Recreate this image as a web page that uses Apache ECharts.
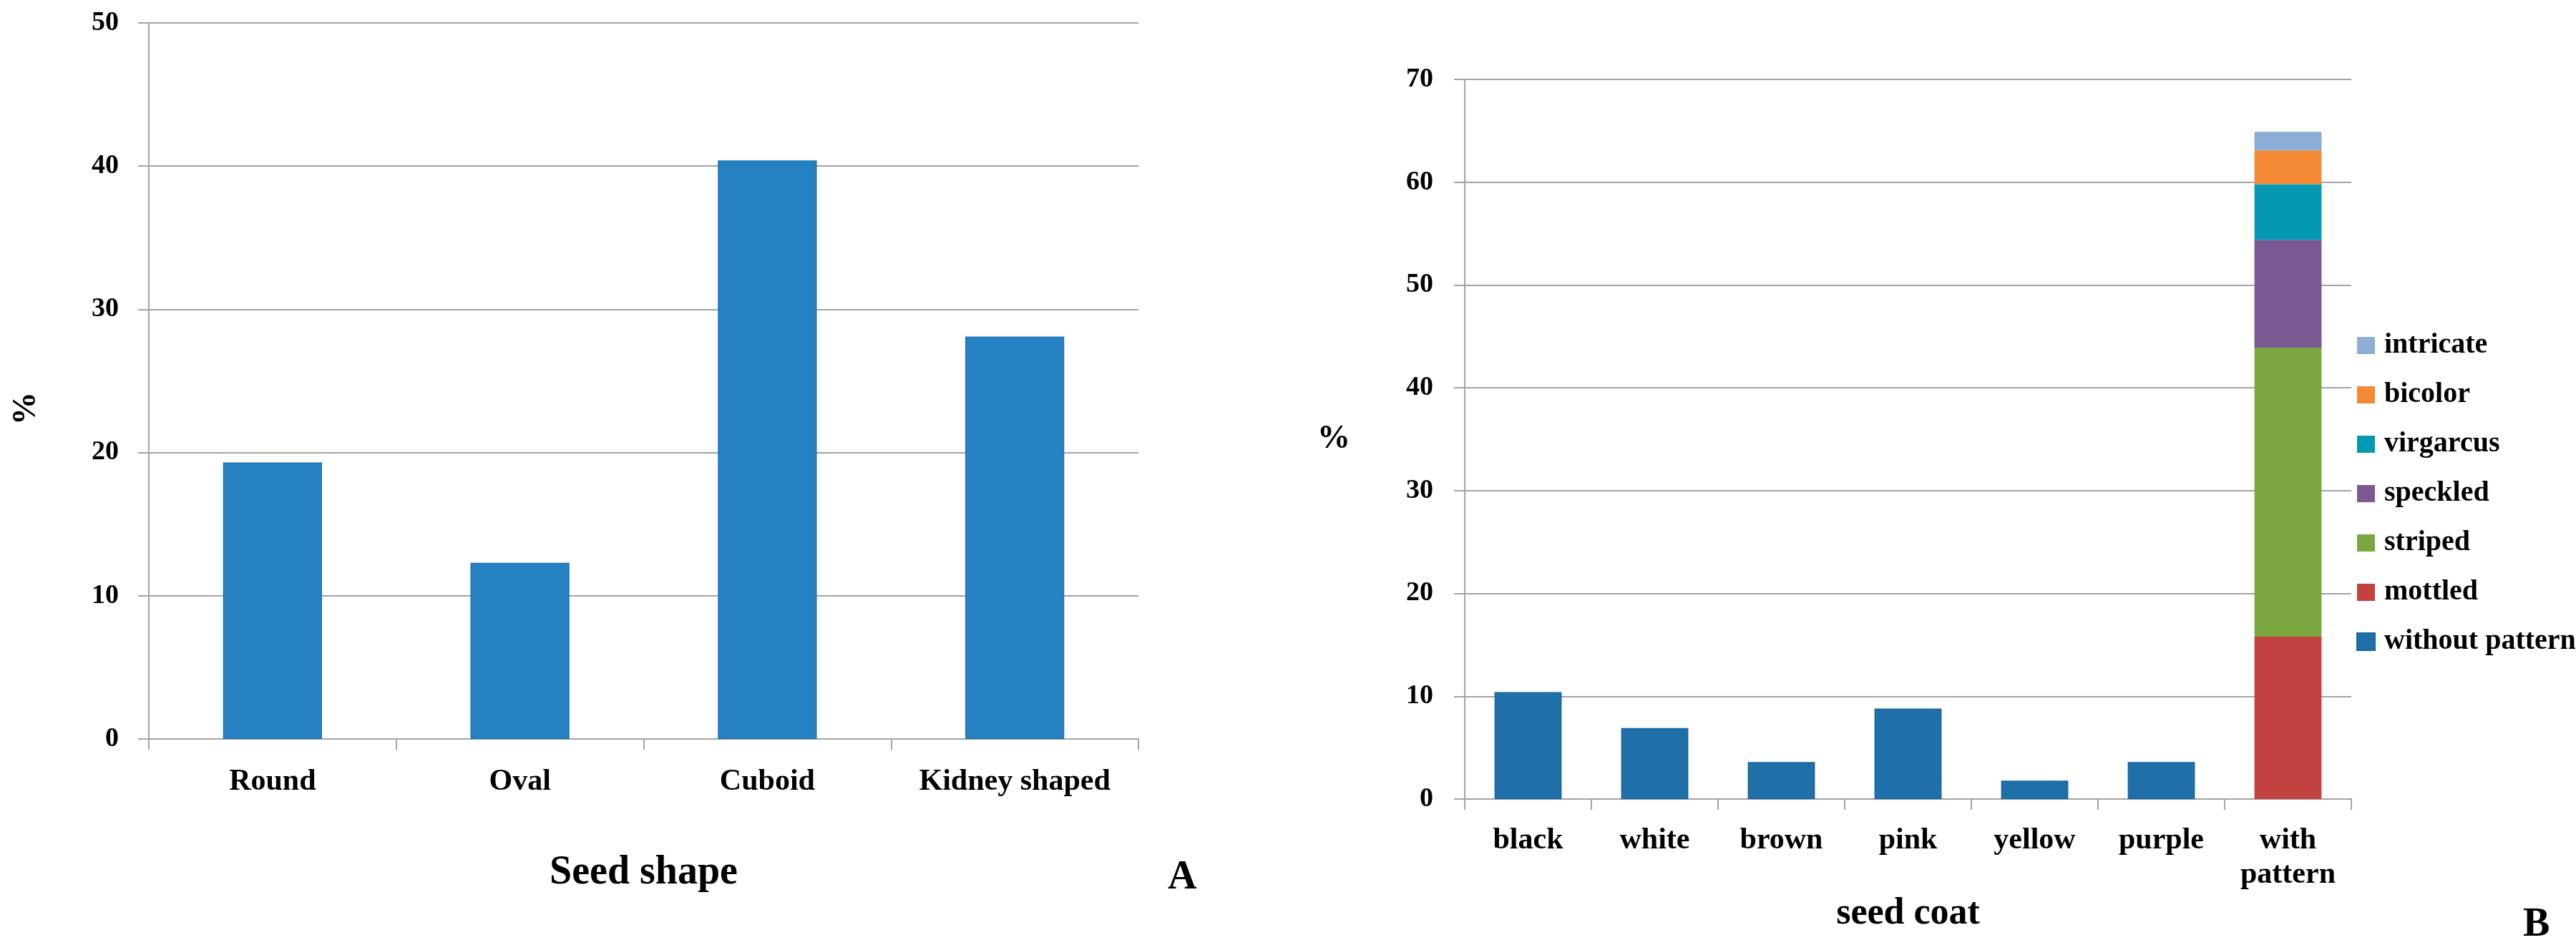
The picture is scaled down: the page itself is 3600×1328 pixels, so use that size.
<!DOCTYPE html>
<html>
<head>
<meta charset="utf-8">
<script src="https://cdn.jsdelivr.net/npm/echarts@6/dist/echarts.min.js"></script>
<style>
html,body{margin:0;padding:0;background:#fff;}
#chart{width:3600px;height:1328px;}
</style>
</head>
<body>
<div id="chart"></div>
<script>
// ---- Data ----
const shapeCategories = ['Round', 'Oval', 'Cuboid', 'Kidney shaped'];
const shapeValues = [19.3, 12.3, 40.4, 28.1];
const shapeTicks = [0, 10, 20, 30, 40, 50];

const coatCategories = ['black', 'white', 'brown', 'pink', 'yellow', 'purple', 'with\npattern'];
const withoutPattern = [10.4, 6.9, 3.6, 8.8, 1.8, 3.6, null];
const patternNames = ['mottled', 'striped', 'speckled', 'virgarcus', 'bicolor', 'intricate'];
const patternValues = [15.8, 28.1, 10.5, 5.4, 3.3, 1.8];
const coatTicks = [0, 10, 20, 30, 40, 50, 60, 70];
const legendOrder = ['intricate', 'bicolor', 'virgarcus', 'speckled', 'striped', 'mottled', 'without pattern'];

// ---- Styles ----
const FONT = '"Liberation Serif", "DejaVu Serif", serif';
const patternColors = {
  'mottled': '#C3423F',
  'striped': '#7BA743',
  'speckled': '#7A5890',
  'virgarcus': '#0399B3',
  'bicolor': '#F38935',
  'intricate': '#8DADD6'
};
const gray = '#A3A3A3';

const lastIdx = coatCategories.length - 1;
const patternSeries = patternNames.map((name, i) => ({
  name: name,
  type: 'bar',
  xAxisIndex: 1, yAxisIndex: 1,
  stack: 'coat',
  barWidth: '53%',
  itemStyle: { color: patternColors[name] },
  data: coatCategories.map((c, j) => j === lastIdx ? patternValues[i] : null)
}));

const chart = echarts.init(document.getElementById('chart'), null, { renderer: 'canvas' });

function yAxisCommon(max, interval, margin) {
  return {
    type: 'value', min: 0, max: max, interval: interval,
    axisLine: { show: true, lineStyle: { color: gray, width: 2 } },
    axisTick: { show: true, length: 15, lineStyle: { color: gray, width: 2 } },
    splitLine: { show: true, lineStyle: { color: gray, width: 2 } },
    axisLabel: { margin: margin, color: '#000', fontFamily: FONT, fontWeight: 'bold', fontSize: 38 }
  };
}
function xAxisCommon(cats, margin) {
  return {
    type: 'category', data: cats,
    axisLine: { show: true, lineStyle: { color: gray, width: 2 } },
    axisTick: { show: true, length: 15, alignWithLabel: false, lineStyle: { color: gray, width: 2 } },
    axisLabel: { margin: margin, color: '#000', fontFamily: FONT, fontWeight: 'bold', fontSize: 42, lineHeight: 48, interval: 0 }
  };
}

const option = {
  backgroundColor: '#fff',
  animation: false,
  grid: [
    { left: 208, right: 3600 - 1591, top: 32, bottom: 1328 - 1033 },
    { left: 2047, right: 3600 - 3286, top: 111, bottom: 1328 - 1117 }
  ],
  xAxis: [
    Object.assign(xAxisCommon(shapeCategories, 36), {
      gridIndex: 0,
      name: 'Seed shape', nameLocation: 'middle', nameGap: 160,
      nameTextStyle: { color: '#000', fontFamily: FONT, fontWeight: 'bold', fontSize: 56 }
    }),
    Object.assign(xAxisCommon(coatCategories, 34), {
      gridIndex: 1,
      name: 'seed coat', nameLocation: 'middle', nameGap: 124,
      nameTextStyle: { color: '#000', fontFamily: FONT, fontWeight: 'bold', fontSize: 52 }
    })
  ],
  yAxis: [
    Object.assign(yAxisCommon(shapeTicks[shapeTicks.length - 1], 10, 42), { gridIndex: 0 }),
    Object.assign(yAxisCommon(coatTicks[coatTicks.length - 1], 10, 44), {
      gridIndex: 1,
      name: '%', nameLocation: 'middle', nameRotate: 0, nameGap: 160,
      nameTextStyle: { color: '#000', fontFamily: FONT, fontWeight: 'bold', fontSize: 46 }
    })
  ],
  legend: {
    orient: 'vertical',
    left: 3288, top: 458,
    data: legendOrder,
    itemWidth: 25, itemHeight: 24, itemGap: 29,
    icon: 'rect',
    textStyle: { color: '#000', fontFamily: FONT, fontWeight: 'bold', fontSize: 40, lineHeight: 40, padding: [0, 0, 0, 8] }
  },
  graphic: [
    { type: 'text', left: 14, top: 548, rotation: Math.PI / 2,
      style: { text: '%', fill: '#000', font: 'bold 46px ' + FONT } },
    { type: 'text', left: 1632, top: 1200,
      style: { text: 'A', fill: '#000', font: 'bold 56px ' + FONT } },
    { type: 'text', left: 3526, top: 1266,
      style: { text: 'B', fill: '#000', font: 'bold 56px ' + FONT } }
  ],
  series: [
    {
      name: 'Seed shape', type: 'bar', xAxisIndex: 0, yAxisIndex: 0,
      barWidth: '40%',
      itemStyle: { color: '#2581C1', borderColor: '#1E74B3', borderWidth: 1.5 },
      data: shapeValues
    },
    {
      name: 'without pattern', type: 'bar', xAxisIndex: 1, yAxisIndex: 1,
      stack: 'coat', barWidth: '53%',
      itemStyle: { color: '#1F70A8', borderColor: '#1A64A0', borderWidth: 1.5 },
      data: withoutPattern
    }
  ].concat(patternSeries)
};
chart.setOption(option);
</script>
</body>
</html>
